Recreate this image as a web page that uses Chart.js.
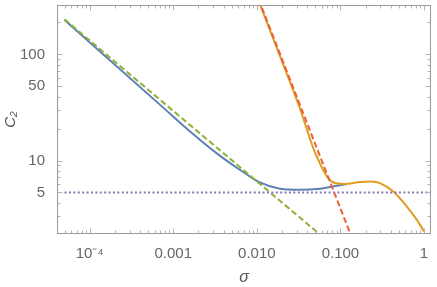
<!DOCTYPE html>
<html><head><meta charset="utf-8">
<script src="https://cdn.jsdelivr.net/npm/chart.js@4.4.0/dist/chart.umd.min.js"></script>
<style>html,body{margin:0;padding:0;background:#fff;}canvas{display:block}</style>
</head><body>
<canvas id="c" width="437" height="287"></canvas>
<script>
// ---- data ----
const blueX = [5e-5, 8.13e-4, 1.31e-3, 3.29e-3, 6.25e-3, 0.01086, 0.01884, 0.0327, 0.0568, 0.082, 0.108, 0.12];
const blueY = [211, 30.0, 21.4, 11.74, 8.18, 6.21, 5.42, 5.30, 5.42, 5.70, 5.91, 5.98];
const orangeX = [0.0104, 0.02, 0.0327, 0.0437, 0.0482, 0.0592, 0.068, 0.0738, 0.0813, 0.0933, 0.1132, 0.171, 0.2365, 0.297, 0.429, 0.621, 0.818, 1.0];
const orangeY = [325, 86, 31.1, 15.65, 12.6, 8.78, 7.18, 6.59, 6.24, 6.07, 6.01, 6.27, 6.35, 6.13, 5.11, 3.70, 2.77, 2.15];
const greenX = [5e-5, 0.056];
const greenY = [214, 2.03];
const redX = [0.0105, 0.1318];
const redY = [330, 2.03];
const purpleX = [5e-5, 1.3];
const purpleY = [5, 5];

const xTickValues = [1e-4, 1e-3, 1e-2, 1e-1, 1];
const xTickLabels = ['10\u207B\u2074', '0.001', '0.010', '0.100', '1'];
const yTickValues = [5, 10, 50, 100];
const yTickLabels = ['5', '10', '50', '100'];
const yMinorTicks = [3, 4, 6, 7, 8, 9, 20, 30, 40, 60, 70, 80, 90, 200];

const pts = (xs, ys) => xs.map((x, i) => ({x: x, y: ys[i]}));

const xMinor = [];
for (let d = -5; d <= 0; d++) for (let m = 2; m <= 9; m++) xMinor.push(m * Math.pow(10, d));

const framePlugin = {
  id: 'frame',
  afterDatasetsDraw(chart) {
    const {ctx, chartArea: a, scales: {x, y}} = chart;
    const L = Math.round(a.left) + 0.5, R = Math.round(a.right) - 0.5;
    const T = Math.round(a.top) + 0.5, B = Math.round(a.bottom) - 0.5;
    ctx.save();
    ctx.lineWidth = 1;
    ctx.strokeStyle = '#b4b4b4';
    ctx.beginPath();
    const xt = (v, len) => {
      const p = x.getPixelForValue(v);
      if (p < a.left + 1 || p > a.right - 1) return;
      const px = Math.round(p) + 0.5;
      ctx.moveTo(px, B); ctx.lineTo(px, B - len);
      ctx.moveTo(px, T); ctx.lineTo(px, T + len);
    };
    const yt = (v, len) => {
      const p = y.getPixelForValue(v);
      if (p < a.top + 1 || p > a.bottom - 1) return;
      const py = Math.round(p) + 0.5;
      ctx.moveTo(L, py); ctx.lineTo(L + len, py);
      ctx.moveTo(R, py); ctx.lineTo(R - len, py);
    };
    xMinor.forEach(v => xt(v, 3));
    xTickValues.forEach(v => xt(v, 5));
    yMinorTicks.forEach(v => yt(v, 3));
    yTickValues.forEach(v => yt(v, 5));
    ctx.stroke();
    ctx.strokeStyle = '#9a9a9a';
    ctx.strokeRect(L, T, R - L, B - T);
    ctx.restore();
  }
};

const common = {pointRadius: 0, borderWidth: 2, fill: false, clip: 0};

new Chart(document.getElementById('c'), {
  type: 'line',
  data: {
    datasets: [
      Object.assign({data: pts(purpleX, purpleY), borderColor: '#8778B3', borderDash: [2, 2.4], order: 0}, common),
      Object.assign({data: pts(redX, redY), borderColor: '#EB6235', borderDash: [6, 3], order: 1}, common),
      Object.assign({data: pts(greenX, greenY), borderColor: '#8FB032', borderDash: [6, 3], order: 2}, common),
      Object.assign({data: pts(orangeX, orangeY), borderColor: '#E19C24', cubicInterpolationMode: 'monotone', order: 3}, common),
      Object.assign({data: pts(blueX, blueY), borderColor: '#5E81B5', cubicInterpolationMode: 'monotone', order: 4}, common)
    ]
  },
  options: {
    responsive: false,
    animation: false,
    devicePixelRatio: 1,
    layout: {padding: {left: 0, right: 6, top: 5, bottom: 0}},
    plugins: {legend: {display: false}, tooltip: {enabled: false}},
    scales: {
      x: {
        type: 'logarithmic', min: 4.06e-5, max: 1.213,
        afterBuildTicks: s => { s.ticks = xTickValues.map(v => ({value: v})); },
        afterFit: s => { s.height = 53; s.paddingLeft = 0; s.paddingRight = 0; },
        grid: {display: false}, border: {display: false},
        ticks: {autoSkip: false, maxRotation: 0, padding: 3, color: '#666',
          font: {family: 'Liberation Sans', size: 15},
          callback: (v, i) => xTickLabels[i]},
        title: {display: true, text: '\u03C3', color: '#555',
          font: {family: 'Liberation Sans', size: 16, style: 'italic'},
          padding: {top: 0, bottom: 0}}
      },
      y: {
        type: 'logarithmic', min: 2.03, max: 292,
        afterBuildTicks: s => { s.ticks = yTickValues.map(v => ({value: v})); },
        afterFit: s => { s.width = 57; s.paddingTop = 0; s.paddingBottom = 0; },
        grid: {display: false}, border: {display: false},
        ticks: {autoSkip: false, padding: 4, color: '#666',
          font: {family: 'Liberation Sans', size: 15},
          callback: (v, i) => yTickLabels[i]},
        title: {display: true, text: 'C\u2082', color: '#555',
          font: {family: 'Liberation Sans', size: 15, style: 'italic'},
          padding: {top: 2, bottom: 0}}
      }
    }
  },
  plugins: [framePlugin]
});
</script>
</body></html>
